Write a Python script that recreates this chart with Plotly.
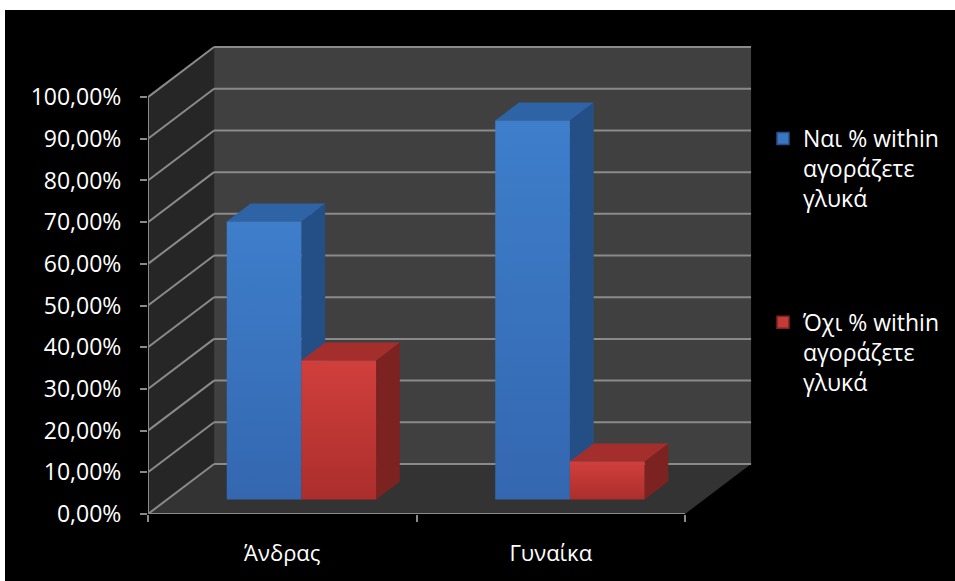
import plotly.graph_objects as go

# ---- data -------------------------------------------------------------
categories = ["Άνδρας", "Γυναίκα"]
series_names = [
    "Ναι % within<br>αγοράζετε<br>γλυκά",
    "Όχι % within<br>αγοράζετε<br>γλυκά",
]
yes_pct = [66.67, 90.91]
no_pct = [33.33, 9.09]
y_ticks = list(range(0, 101, 10))
y_tick_text = [f"{v},00%" for v in y_ticks]

# ---- styling ------------------------------------------------------------
FONT = "Open Sans"
GRID = "#8a8a8a"
BACK_WALL = "#404040"
SIDE_WALL = "#262626"
FLOOR = "#333333"
# front (top, bottom), top face, side face
SERIES_COLORS = [
    dict(front=("#3e7ecb", "#3467b0"), top="#2e63a6", side="#244f86", legend="#3a76c2"),
    dict(front=("#d03f3c", "#ab2e2c"), top="#a42e2c", side="#7c2321", legend="#c43a37"),
]

# oblique projection of the depth axis (in data units)
DEPTH_X = 0.246
DEPTH_Y = 12.0
BAR_W = 0.278          # bar width in category units
F0, F1 = 0.29, 0.65    # front/back depth fraction of bars
X_LO, X_HI = -0.5, 1.5


def proj(x, y, f):
    return x + f * DEPTH_X, y + f * DEPTH_Y


def poly(points, color, **kw):
    xs = [p[0] for p in points] + [points[0][0]]
    ys = [p[1] for p in points] + [points[0][1]]
    return go.Scatter(x=xs, y=ys, mode="lines", fill="toself", fillcolor=color,
                      line=dict(width=0, color=color), hoverinfo="skip",
                      showlegend=False, **kw)


def seg(p, q, color=GRID, width=2):
    return go.Scatter(x=[p[0], q[0]], y=[p[1], q[1]], mode="lines",
                      line=dict(color=color, width=width), hoverinfo="skip",
                      showlegend=False)


fig = go.Figure()

# walls and floor
fig.add_trace(poly([proj(X_LO, 0, 1), proj(X_HI, 0, 1), proj(X_HI, 100, 1), proj(X_LO, 100, 1)], BACK_WALL))
fig.add_trace(poly([proj(X_LO, 0, 0), proj(X_LO, 100, 0), proj(X_LO, 100, 1), proj(X_LO, 0, 1)], SIDE_WALL))
fig.add_trace(poly([proj(X_LO, 0, 0), proj(X_HI, 0, 0), proj(X_HI, 0, 1), proj(X_LO, 0, 1)], FLOOR))

# gridlines on side and back walls
for v in y_ticks:
    fig.add_trace(seg(proj(X_LO, v, 0), proj(X_LO, v, 1)))
    fig.add_trace(seg(proj(X_LO, v, 1), proj(X_HI, v, 1)))

# front vertical axis edge and front floor edge
fig.add_trace(seg(proj(X_LO, 0, 0), proj(X_LO, 100, 0)))
fig.add_trace(seg(proj(X_LO, 0, 0), proj(X_HI, 0, 0)))

# 3D columns
for i, cat in enumerate(categories):
    for s, values in enumerate([yes_pct, no_pct]):
        v = values[i]
        c = SERIES_COLORS[s]
        x0 = i - BAR_W + s * BAR_W
        x1 = x0 + BAR_W
        fig.add_trace(poly([proj(x1, 0, F0), proj(x1, 0, F1), proj(x1, v, F1), proj(x1, v, F0)], c["side"]))
        fig.add_trace(poly([proj(x0, v, F0), proj(x1, v, F0), proj(x1, v, F1), proj(x0, v, F1)], c["top"]))
        front = poly([proj(x0, 0, F0), proj(x1, 0, F0), proj(x1, v, F0), proj(x0, v, F0)], c["front"][0])
        front.update(fillgradient=dict(type="vertical",
                                       colorscale=[[0, c["front"][1]], [1, c["front"][0]]]))
        fig.add_trace(front)

# legend entries
for s, name in enumerate(series_names):
    fig.add_trace(go.Scatter(
        x=[None], y=[None], mode="markers", name=name, legendgroup=f"g{s}",
        marker=dict(symbol="square", size=12, color=SERIES_COLORS[s]["legend"],
                    line=dict(color=SERIES_COLORS[s]["side"], width=1.5)),
    ))

W, H = 955, 581
ML, MR, MT, MB = 148, 195, 40, 67
px_per_x = 268.5
px_per_y = 4.169
x_hi = X_LO + (W - ML - MR) / px_per_x
y_hi = (H - MT - MB) / px_per_y
plot_w = W - ML - MR
plot_h = H - MT - MB

fig.update_layout(
    width=W, height=H,
    autosize=False,
    margin=dict(l=ML, r=MR, t=MT, b=MB, pad=0, autoexpand=False),
    paper_bgcolor="black",
    plot_bgcolor="rgba(0,0,0,0)",
    font=dict(family=FONT, color="white"),
    showlegend=True,
    legend=dict(
        xref="container", yref="container",
        x=763 / W, y=1 - 117 / H,
        xanchor="left", yanchor="top",
        font=dict(family=FONT, size=23, color="white"),
        bgcolor="rgba(0,0,0,0)",
        valign="top", tracegroupgap=91, itemwidth=30,
    ),
    xaxis=dict(
        range=[X_LO, x_hi], showgrid=False, zeroline=False, showline=False,
        automargin=False,
        tickmode="array", tickvals=list(range(len(categories))), ticktext=categories,
        ticks="outside", ticklen=0, tickfont=dict(size=22, color="white", family=FONT),
        ticklabelstandoff=20,
        minor=dict(tickmode="array", tickvals=[X_LO, 0.5, X_HI], ticks="outside",
                   ticklen=7, tickwidth=2, tickcolor=GRID, showgrid=False),
        fixedrange=True,
    ),
    yaxis=dict(
        range=[0, y_hi], showgrid=False, zeroline=False, showline=False,
        automargin=False,
        tickmode="array", tickvals=y_ticks, ticktext=y_tick_text,
        ticks="outside", ticklen=7, tickwidth=2, tickcolor=GRID,
        tickfont=dict(size=23, color="white", family=FONT),
        ticklabelstandoff=14,
        fixedrange=True,
    ),
    shapes=[
        # white page margin along the top and left of the chart frame
        dict(type="rect", xref="paper", yref="paper", layer="above",
             x0=-ML / plot_w, x1=(W - ML) / plot_w,
             y0=(H - MB - 10) / plot_h, y1=(H - MB) / plot_h,
             fillcolor="white", line=dict(width=0)),
        dict(type="rect", xref="paper", yref="paper", layer="above",
             x0=-ML / plot_w, x1=(5 - ML) / plot_w,
             y0=-MB / plot_h, y1=(H - MB) / plot_h,
             fillcolor="white", line=dict(width=0)),
    ],
)

fig.write_html(
    "out.html",
    config={"displayModeBar": False},
    post_script="document.body.style.margin='0';document.body.style.overflow='hidden';",
)
